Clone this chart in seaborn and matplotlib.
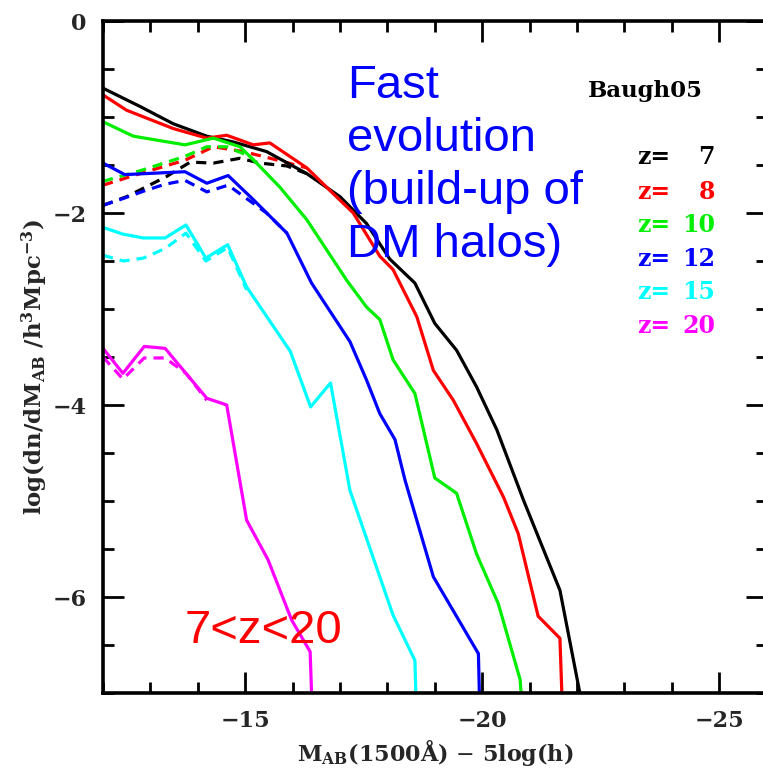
import numpy as np
import pandas as pd
import matplotlib
matplotlib.use("Agg")
import matplotlib.pyplot as plt
import seaborn as sns
from matplotlib.ticker import MultipleLocator

# ---------------- data ----------------
z7_x = [-12.0, -12.78, -13.48, -14.19, -14.75, -15.45, -16.30, -17.0, -17.56, -18.05, -18.58,
        -19.0, -19.46, -19.88, -20.31, -20.87, -21.64, -22.06]
z7_y = [-0.70, -0.89, -1.07, -1.20, -1.26, -1.36, -1.59, -1.83, -2.11, -2.48, -2.73,
        -3.15, -3.43, -3.81, -4.26, -4.99, -5.93, -7.0]

z8_x = [-12.0, -12.5, -13.48, -14.19, -14.61, -15.17, -15.52, -16.30, -16.86, -17.28, -17.84,
        -18.12, -18.62, -18.97, -19.39, -19.88, -20.45, -20.76, -21.18, -21.64, -21.68]
z8_y = [-0.77, -0.93, -1.12, -1.22, -1.19, -1.29, -1.27, -1.53, -1.80, -2.0, -2.45,
        -2.59, -3.08, -3.64, -3.95, -4.40, -4.96, -5.34, -6.2, -6.43, -7.0]

z10_x = [-12.0, -12.64, -13.73, -14.33, -14.89, -15.24, -15.73, -16.30, -17.14, -17.56, -17.84,
         -18.12, -18.58, -19.0, -19.46, -19.88, -20.34, -20.80, -20.82]
z10_y = [-1.05, -1.20, -1.29, -1.22, -1.31, -1.48, -1.73, -2.07, -2.70, -2.98, -3.11,
         -3.53, -3.88, -4.76, -4.92, -5.55, -6.07, -6.86, -7.0]

z12_x = [-12.0, -12.46, -13.73, -14.19, -14.64, -15.17, -15.88, -16.40, -17.21, -17.56, -17.84,
         -18.16, -18.37, -18.97, -19.92, -19.94]
z12_y = [-1.48, -1.60, -1.57, -1.69, -1.61, -1.86, -2.21, -2.73, -3.34, -3.74, -4.09,
         -4.36, -4.78, -5.79, -6.59, -7.0]

z15_x = [-12.0, -12.42, -12.85, -13.31, -13.75, -14.17, -14.63, -15.03, -15.95, -16.38, -16.80,
         -17.21, -18.12, -18.58, -18.60]
z15_y = [-2.15, -2.22, -2.26, -2.26, -2.125, -2.47, -2.33, -2.77, -3.44, -4.02, -3.77,
         -4.89, -6.19, -6.66, -7.0]

z20_x = [-12.0, -12.42, -12.87, -13.31, -13.75, -14.19, -14.61, -15.03, -15.48, -15.98, -16.37, -16.40]
z20_y = [-3.41, -3.67, -3.39, -3.41, -3.67, -3.93, -4.0, -5.20, -5.61, -6.24, -6.57, -7.0]

# dashed companions
z7d_x = [-12.0, -12.5, -13.34, -13.84, -14.33, -14.89, -15.31, -15.88, -16.30]
z7d_y = [-1.92, -1.83, -1.62, -1.47, -1.48, -1.43, -1.48, -1.51, -1.59]
z8d_x = [-12.0, -12.78, -13.73, -14.33, -14.96, -15.45, -16.30]
z8d_y = [-1.71, -1.59, -1.45, -1.31, -1.36, -1.42, -1.53]
z10d_x = [-12.0, -12.78, -13.73, -14.19, -14.61, -15.10, -15.24]
z10d_y = [-1.67, -1.56, -1.41, -1.31, -1.31, -1.41, -1.48]
z12d_x = [-12.0, -12.42, -12.87, -13.31, -13.73, -14.19, -14.64, -15.45, -15.88]
z12d_y = [-1.92, -1.85, -1.77, -1.70, -1.66, -1.78, -1.71, -2.0, -2.21]
z15d_x = [-12.0, -12.43, -12.85, -13.31, -13.75, -14.17, -14.63, -15.03]
z15d_y = [-2.44, -2.50, -2.47, -2.37, -2.21, -2.50, -2.36, -2.80]
z20d_x = [-12.0, -12.42, -12.87, -13.31, -13.75, -14.19]
z20d_y = [-3.50, -3.73, -3.51, -3.51, -3.67, -3.95]

redshifts = [7, 8, 10, 12, 15, 20]
colors = ["#000000", "#ff0000", "#00ee00", "#0000ff", "#00ffff", "#ff00ff"]
solid = [(z7_x, z7_y), (z8_x, z8_y), (z10_x, z10_y), (z12_x, z12_y), (z15_x, z15_y), (z20_x, z20_y)]
dashed = [(z7d_x, z7d_y), (z8d_x, z8d_y), (z10d_x, z10d_y), (z12d_x, z12d_y), (z15d_x, z15d_y), (z20d_x, z20d_y)]

x_ticks = [-15, -20, -25]
y_ticks = [0, -2, -4, -6]

# ---------------- figure ----------------
sns.set_theme(style="ticks")
plt.rcParams["font.family"] = ["DejaVu Serif", "DejaVu Sans"]
plt.rcParams["mathtext.fontset"] = "dejavuserif"

W, H = 763, 771
fig = plt.figure(figsize=(W / 100, H / 100), dpi=100)
ax = fig.add_axes([103 / W, 78 / H, (766.6 - 103) / W, (693 - 21) / H])

for (dx, dy), c in zip(dashed, colors):
    sns.lineplot(x=dx, y=dy, ax=ax, color=c, lw=2.3, estimator=None, sort=False,
                 linestyle=(0, (3.2, 2.2)))
for (sx, sy), c in zip(solid, colors):
    sns.lineplot(x=sx, y=sy, ax=ax, color=c, lw=2.3, estimator=None, sort=False)

ax.set_xlim(-12, -26)
ax.set_ylim(-7, 0)
ax.set_xticks(x_ticks)
ax.set_yticks(y_ticks)
ax.xaxis.set_minor_locator(MultipleLocator(1))
ax.yaxis.set_minor_locator(MultipleLocator(0.5))
ax.set_xticklabels(["\u221215", "\u221220", "\u221225"])
ax.set_yticklabels(["0", "\u22122", "\u22124", "\u22126"])
ax.tick_params(which="both", direction="in", top=True, right=True, width=2, color="black")
ax.tick_params(which="major", length=15, labelsize=16, pad=12)
ax.tick_params(which="minor", length=8)
for lab in ax.get_xticklabels() + ax.get_yticklabels():
    lab.set_fontweight("bold")
for sp in ax.spines.values():
    sp.set_linewidth(2.6)
    sp.set_color("black")

ax.set_xlabel(r"M$_{\mathbf{AB}}$(1500Å) $-$ 5log(h)", fontsize=16, fontweight="bold", labelpad=4)
ax.set_ylabel(r"log(dn/dM$_{\mathbf{AB}}$ /h$^{\mathbf{3}}$Mpc$^{\mathbf{-3}}$)", fontsize=16.5,
              fontweight="bold")
ax.yaxis.set_label_coords(-0.08, 0.485)

# annotations
fig.text(347 / W, 1 - 64 / H, "Fast\nevolution\n(build-up of\nDM halos)", color="#0000ff",
         fontsize=34, family=["Liberation Sans", "DejaVu Sans"], va="top", ha="left",
         linespacing=1.26)
fig.text(185 / W, 1 - 643 / H, "7<z<20", color="#ff0000", fontsize=34,
         family=["Liberation Sans", "DejaVu Sans"], va="baseline", ha="left")
fig.text(588 / W, 1 - 97 / H, "Baugh05", color="black", fontsize=16.5, fontweight="bold",
         va="baseline", ha="left")
base = [164, 199, 232, 266, 299, 333]
for zz, c, b in zip(redshifts, colors, base):
    fig.text(637 / W, 1 - b / H, "z=", color=c, fontsize=17, fontweight="bold",
             va="baseline", ha="left")
    fig.text(715 / W, 1 - b / H, str(zz), color=c, fontsize=17, fontweight="bold",
             va="baseline", ha="right")

fig.savefig("out.png", dpi=100)
